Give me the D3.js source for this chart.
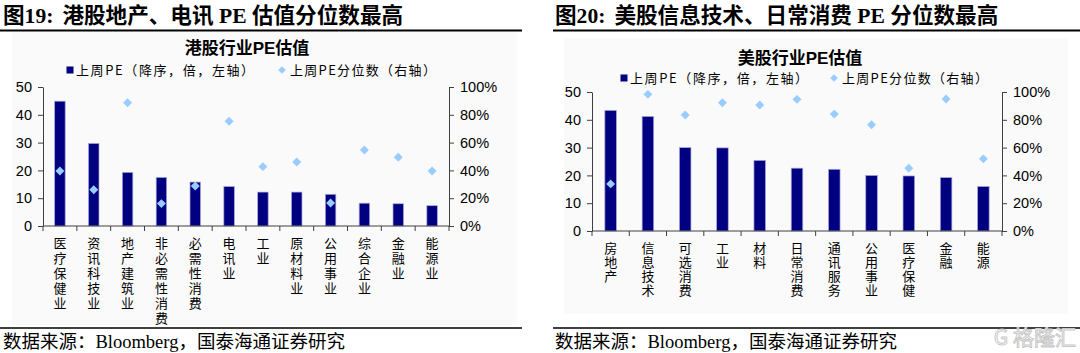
<!DOCTYPE html>
<html>
<head>
<meta charset="utf-8">
<script src="https://cdn.jsdelivr.net/npm/d3@7"></script>
<style>
  body { margin: 0; background: #fff; }
  svg { display: block; }
</style>
</head>
<body>
<div id="chart-container"></div>
<script>
// HK sectors
const hkCategories = ["医疗保健业", "资讯科技业", "地产建筑业", "非必需性消费", "必需性消费", "电讯业",
    "工业", "原材料业", "公用事业", "综合企业", "金融业", "能源业"];
const hkPE = [44.9, 29.7, 19.3, 17.5, 15.8, 14.2, 12.2, 12.2, 11.4, 8.2, 8.0, 7.3];
const hkPct = [0.396, 0.261, 0.887, 0.161, 0.288, 0.753, 0.427, 0.460, 0.165, 0.547, 0.494, 0.396];

// US sectors
const usCategories = ["房地产", "信息技术", "可选消费", "工业", "材料", "日常消费", "通讯服务",
    "公用事业", "医疗保健", "金融", "能源"];
const usPE = [43.4, 41.2, 30.0, 29.9, 25.4, 22.6, 22.2, 20.0, 19.8, 19.2, 16.0];
const usPct = [0.339, 0.983, 0.834, 0.923, 0.906, 0.947, 0.841, 0.764, 0.452, 0.950, 0.519];

// tick labels
const peTicks = [0, 10, 20, 30, 40, 50];
const pctTicks = [0, 0.2, 0.4, 0.6, 0.8, 1.0];

const legendBar = "上周PE（降序，倍，左轴）";
const legendDot = "上周PE分位数（右轴）";

const width = 1080;
const height = 353;

const svg = d3.select("#chart-container")
    .append("svg")
    .attr("width", width)
    .attr("height", height);

const serif = "'Liberation Serif', 'Noto Sans CJK SC', serif";
const sans = "'Liberation Sans', Arial, 'Noto Sans CJK SC', sans-serif";
const cjk = "'Noto Sans CJK SC', sans-serif";

function drawPanel(p) {
    const g = svg.append("g");

    // light panel behind chart
    g.append("rect")
        .attr("x", p.bg[0]).attr("y", p.bg[1])
        .attr("width", p.bg[2]).attr("height", p.bg[3])
        .attr("fill", "#fafafa");

    // figure heading
    const head = g.append("text")
        .attr("x", p.headX).attr("y", 23)
        .style("font-family", serif)
        .style("font-weight", "bold")
        .style("font-size", "21.6px")
        .attr("fill", "#000");
    head.append("tspan").text(p.headNo);
    head.append("tspan").attr("dx", 9).text(p.headText);

    // rules
    g.append("line")
        .attr("x1", p.rule[0]).attr("x2", p.rule[1])
        .attr("y1", 30.5).attr("y2", 30.5)
        .attr("stroke", "#000").attr("stroke-width", 2);
    g.append("line")
        .attr("x1", p.rule[0]).attr("x2", p.rule[1])
        .attr("y1", 328).attr("y2", 328)
        .attr("stroke", "#000").attr("stroke-width", 1.5);

    // footer
    g.append("text")
        .attr("x", p.headX).attr("y", 348)
        .style("font-family", serif)
        .style("font-size", "18.5px")
        .text("数据来源：Bloomberg，国泰海通证券研究");

    // chart title
    g.append("text")
        .attr("x", p.titleX).attr("y", p.titleY)
        .attr("text-anchor", "middle")
        .style("font-family", sans)
        .style("font-weight", "bold")
        .style("font-size", "17px")
        .text(p.title);

    // scales
    const x = d3.scaleBand()
        .domain(p.categories)
        .range([p.left, p.right]);
    const y = d3.scaleLinear().domain([0, 50]).range([p.bottom, p.top]);
    const y2 = d3.scaleLinear().domain([0, 1]).range([p.bottom, p.top]);

    // axes
    const axL = g.append("g")
        .attr("transform", `translate(${p.left},0)`)
        .call(d3.axisLeft(y).tickValues(peTicks).tickSize(5).tickSizeOuter(0).tickPadding(6));
    const axR = g.append("g")
        .attr("transform", `translate(${p.right},0)`)
        .call(d3.axisRight(y2).tickValues(pctTicks).tickSize(5).tickSizeOuter(0).tickPadding(6)
            .tickFormat(d3.format(".0%")));
    [axL, axR].forEach(a => {
        a.selectAll("path, line").attr("stroke", "#404040");
        a.selectAll("text")
            .attr("fill", "#000")
            .style("font-family", sans)
            .style("font-size", "14.5px");
    });

    // bars
    const bw = x.bandwidth() * 0.31;
    g.selectAll(".bar")
        .data(p.categories)
        .enter()
        .append("rect")
        .attr("x", d => x(d) + (x.bandwidth() - bw) / 2)
        .attr("y", (d, i) => y(p.pe[i]))
        .attr("width", bw)
        .attr("height", (d, i) => p.bottom - y(p.pe[i]))
        .attr("fill", "#000080")
        .attr("stroke", "#a8a8dc")
        .attr("stroke-width", 0.7);

    // x axis line + boundary ticks
    g.append("line")
        .attr("x1", p.left).attr("x2", p.right)
        .attr("y1", p.bottom).attr("y2", p.bottom)
        .attr("stroke", "#404040");
    const bounds = p.categories.map(d => x(d)).concat([p.right]);
    g.selectAll(".xtick")
        .data(bounds)
        .enter()
        .append("line")
        .attr("x1", d => d).attr("x2", d => d)
        .attr("y1", p.bottom).attr("y2", p.bottom + 5)
        .attr("stroke", "#404040");

    // vertical category labels, one char per row
    p.categories.forEach(c => {
        const t = g.append("text")
            .attr("text-anchor", "middle")
            .style("font-family", cjk)
            .style("font-size", "13px")
            .attr("fill", "#000");
        Array.from(c).forEach((ch, k) => {
            t.append("tspan")
                .attr("x", x(c) + x.bandwidth() / 2)
                .attr("y", p.bottom + 22 + k * p.lineStep)
                .text(ch);
        });
    });

    // percentile diamonds
    const diamond = d3.symbol().type(d3.symbolSquare).size(40);
    g.selectAll(".dot")
        .data(p.categories)
        .enter()
        .append("path")
        .attr("d", diamond)
        .attr("transform", (d, i) =>
            `translate(${x(d) + x.bandwidth() / 2},${y2(p.pct[i])}) rotate(45)`)
        .attr("fill", "#99ccff");

    // legend
    g.append("rect")
        .attr("x", p.legBar - 3.5).attr("y", p.legY - 3.5)
        .attr("width", 7).attr("height", 7)
        .attr("fill", "#000080");
    g.append("text")
        .attr("x", p.legBar + 6).attr("y", p.legY + 4.5)
        .style("font-family", cjk)
        .style("font-size", "13px")
        .style("letter-spacing", "1.6px")
        .text(legendBar);
    g.append("path")
        .attr("d", d3.symbol().type(d3.symbolSquare).size(30))
        .attr("transform", `translate(${p.legDot},${p.legY}) rotate(45)`)
        .attr("fill", "#99ccff");
    g.append("text")
        .attr("x", p.legDot + 8).attr("y", p.legY + 4.5)
        .style("font-family", cjk)
        .style("font-size", "13px")
        .style("letter-spacing", "1.3px")
        .text(legendDot);
}

drawPanel({
    headX: 3, headNo: "图19:", headText: "港股地产、电讯 PE 估值分位数最高",
    rule: [0, 522], bg: [12, 32, 505, 293],
    title: "港股行业PE估值", titleX: 247, titleY: 54,
    legY: 70, legBar: 70, legDot: 282,
    categories: hkCategories, pe: hkPE, pct: hkPct,
    left: 43, right: 449, top: 87, bottom: 226, lineStep: 15
});

drawPanel({
    headX: 555, headNo: "图20:", headText: "美股信息技术、日常消费 PE 分位数最高",
    rule: [553, 1080], bg: [564, 38, 504, 276],
    title: "美股行业PE估值", titleX: 800, titleY: 64,
    legY: 78, legBar: 624, legDot: 834,
    categories: usCategories, pe: usPE, pct: usPct,
    left: 592, right: 1002, top: 92, bottom: 231, lineStep: 14
});

// watermark
svg.append("text")
    .attr("x", 1076).attr("y", 345)
    .attr("text-anchor", "end")
    .style("font-family", cjk)
    .style("font-size", "21px")
    .attr("fill", "#fff")
    .attr("stroke", "#c8c8c8")
    .attr("stroke-width", 1)
    .text("G 格隆汇");
</script>
</body>
</html>
